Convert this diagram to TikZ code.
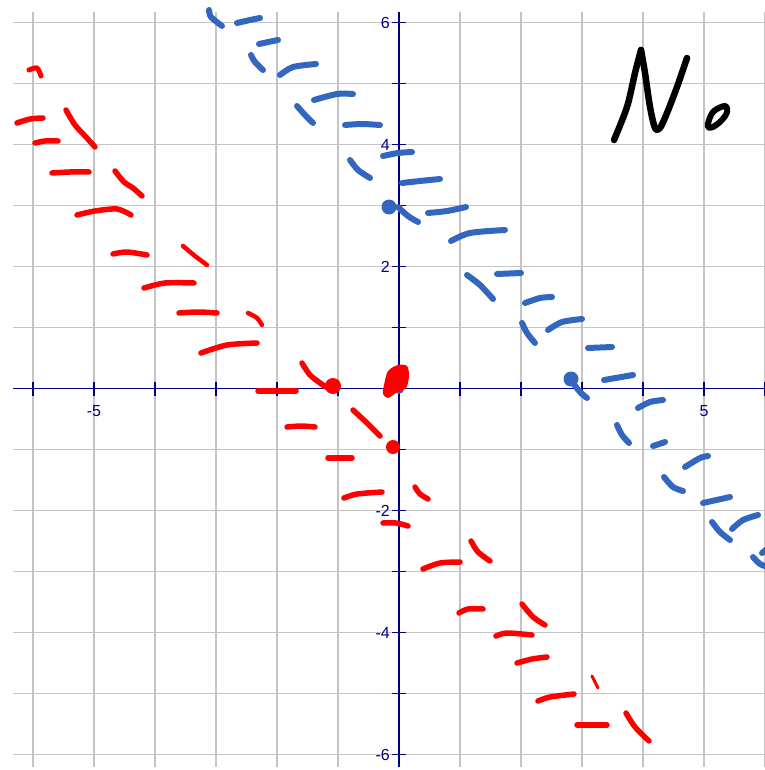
\documentclass[tikz,border=0pt]{standalone}
\usepackage{fontspec}
\setmainfont{Liberation Sans}
\definecolor{gridc}{RGB}{196,196,196}
\definecolor{axisc}{RGB}{0,0,128}
\definecolor{bluec}{RGB}{51,102,191}
\definecolor{redc}{RGB}{255,0,0}
\begin{document}
\begin{tikzpicture}[x=1pt,y=-1pt,
  rs/.style={draw=redc,line width=5.5pt,line cap=round,line join=round},
  bs/.style={draw=bluec,line width=6pt,line cap=round,line join=round},
  ink/.style={draw=black,line width=6.5pt,line cap=round,line join=round},
  gridline/.style={draw=gridc,line width=1.6pt},
  axisline/.style={draw=axisc,line width=1.7pt},
  lab/.style={text=axisc,font=\fontsize{16}{18}\selectfont,inner sep=0pt}]
\fill[white] (0,0) rectangle (764,770);
\useasboundingbox (0,0) rectangle (764,770);
% grid
\foreach \k in {-6,...,6} {
  \draw[gridline] ({399+61*\k},12) -- ({399+61*\k},767);
  \draw[gridline] (13,{388.5-61*\k}) -- (764,{388.5-61*\k});
}
% axes
\draw[axisline] (13,388.5) -- (764,388.5);
\draw[axisline] (399,12) -- (399,767);
\foreach \k in {-6,-5,-4,-3,-2,-1,1,2,3,4,5,6} {
  \draw[axisline] ({399+61*\k},381.5) -- ({399+61*\k},395.5);
  \draw[axisline] (392,{388.5-61*\k}) -- (406,{388.5-61*\k});
}
\node[lab,anchor=north] (lxm5) at (94,405.5) {-5};
\node[lab,anchor=north] (lx5) at (704,405.5) {5};
\node[lab,anchor=east] (ly6) at (390,22.5) {6};
\node[lab,anchor=east] (ly4) at (390,144.5) {4};
\node[lab,anchor=east] (ly2) at (390,266.5) {2};
\node[lab,anchor=east] (lym2) at (390,510.5) {-2};
\node[lab,anchor=east] (lym4) at (390,632.5) {-4};
\node[lab,anchor=east] (lym6) at (390,754.5) {-6};
% blue strokes
\draw[bs] plot[smooth] coordinates {(209,10) (211,17) (222,26)};
\draw[bs] plot[smooth] coordinates {(237,23) (250,20) (260,18)};
\draw[bs] plot[smooth] coordinates {(259,44) (278,40)};
\draw[bs] plot[smooth] coordinates {(251,55) (255,62) (263,70)};
\draw[bs] plot[smooth] coordinates {(280,75) (293,67) (316,64)};
\draw[bs] plot[smooth] coordinates {(297,106) (305,115) (313,123)};
\draw[bs] plot[smooth] coordinates {(314,100) (337,94) (353,94)};
\draw[bs] plot[smooth] coordinates {(345,125) (362,124) (380,125)};
\draw[bs] plot[smooth] coordinates {(350,160) (358,170) (370,178)};
\draw[bs] plot[smooth] coordinates {(383,156) (398,153) (412,152)};
\draw[bs] plot[smooth] coordinates {(402,183) (420,181) (440,179)};
\fill[bluec] (389,207) circle (7.5);
\draw[bs] plot[smooth] coordinates {(398,207) (408,216) (418,222)};
\draw[bs] plot[smooth] coordinates {(428,213) (447,211) (466,207)};
\draw[bs] plot[smooth] coordinates {(451,241) (470,233) (505,230)};
\draw[bs] plot[smooth] coordinates {(467,275) (480,285) (493,299)};
\draw[bs] plot[smooth] coordinates {(497,274) (521,273)};
\draw[bs] plot[smooth] coordinates {(525,303) (540,298) (552,297)};
\draw[bs] plot[smooth] coordinates {(522,323) (527,333) (535,343)};
\draw[bs] plot[smooth] coordinates {(548,330) (562,322) (582,319)};
\draw[bs] plot[smooth] coordinates {(588,348) (612,347)};
\fill[bluec] (571,379) circle (7.5);
\draw[bs] plot[smooth] coordinates {(573,383) (580,392) (587,398)};
\draw[bs] plot[smooth] coordinates {(604,380) (633,375)};
\draw[bs] plot[smooth] coordinates {(638,408) (650,402) (663,400)};
\draw[bs] plot[smooth] coordinates {(617,425) (622,435) (629,443)};
\draw[bs] plot[smooth] coordinates {(653,446) (665,442)};
\draw[bs] plot[smooth] coordinates {(685,467) (700,458) (708,456)};
\draw[bs] plot[smooth] coordinates {(664,477) (673,487) (683,491)};
\draw[bs] plot[smooth] coordinates {(703,503) (730,497)};
\draw[bs] plot[smooth] coordinates {(712,522) (720,532) (730,540)};
\draw[bs] plot[smooth] coordinates {(732,529) (743,520) (758,515)};
\draw[bs] plot[smooth] coordinates {(753,557) (760,564) (768,567)};
\draw[bs] (762,553) -- (767,549);
\fill[bluec] (399,389) circle (5);
% red strokes
\draw[rs,line width=5pt] plot[smooth] coordinates {(29,70) (37,68) (41,76)};
\draw[rs] plot[smooth] coordinates {(17,123) (30,119) (43,118)};
\draw[rs] plot[smooth] coordinates {(66,110) (75,125) (86,137) (95,147)};
\draw[rs] plot[smooth] coordinates {(35,143) (45,141) (58,141)};
\draw[rs] plot[smooth] coordinates {(52,173) (70,172) (89,172)};
\draw[rs] plot[smooth] coordinates {(115,171) (124,182) (133,188) (142,196)};
\draw[rs] plot[smooth] coordinates {(77,215) (95,211) (117,209) (131,215)};
\draw[rs] plot[smooth] coordinates {(113,254) (127,252) (147,255)};
\draw[rs,line width=4.5pt] plot[smooth] coordinates {(183,246) (195,256) (207,265)};
\draw[rs] plot[smooth] coordinates {(144,288) (165,283) (194,283)};
\draw[rs] plot[smooth] coordinates {(179,313) (198,312) (217,313)};
\draw[rs,line width=4.5pt] plot[smooth] coordinates {(248,313) (257,318) (262,325)};
\draw[rs] plot[smooth] coordinates {(201,353) (227,345) (257,343)};
\draw[rs] plot[smooth] coordinates {(302,363) (310,375) (323,385) (332,390)};
\fill[redc] (333,386) circle (8);
\draw[rs] plot[smooth] coordinates {(258,391) (277,391) (296,391)};
\fill[redc] plot[smooth cycle] coordinates {(384,385) (388,371) (398,365) (407,366) (409,376) (406,388) (396,393) (388,398) (383,394)};
\draw[rs] plot[smooth] coordinates {(287,427) (301,426) (315,427)};
\draw[rs] plot[smooth] coordinates {(353,410) (367,423) (380,436)};
\fill[redc] (393,447) circle (7);
\draw[rs] plot[smooth] coordinates {(328,458) (340,458) (352,458)};
\draw[rs] plot[smooth] coordinates {(344,498) (357,494) (382,492)};
\draw[rs] plot[smooth] coordinates {(415,487) (420,494) (428,499)};
\draw[rs] plot[smooth] coordinates {(383,523) (396,523) (408,526)};
\draw[rs] plot[smooth] coordinates {(423,569) (440,563) (460,562)};
\draw[rs] plot[smooth] coordinates {(471,541) (478,552) (490,561)};
\draw[rs] plot[smooth] coordinates {(459,613) (468,609) (483,609)};
\draw[rs] plot[smooth] coordinates {(522,604) (533,617) (545,625)};
\draw[rs] plot[smooth] coordinates {(496,636) (507,633) (532,635)};
\draw[rs] plot[smooth] coordinates {(517,663) (532,659) (547,657)};
\draw[rs,line width=3pt] plot[smooth] coordinates {(592,676) (598,688)};
\draw[rs] plot[smooth] coordinates {(538,701) (550,697) (574,694)};
\draw[rs] plot[smooth] coordinates {(577,725) (592,725) (607,725)};
\draw[rs] plot[smooth] coordinates {(626,713) (635,727) (649,741)};
% handwritten "No"
\draw[ink] plot[smooth,tension=0.5] coordinates {(614,140) (627,107) (635,73) (641,50)};
\draw[ink] plot[smooth,tension=0.5] coordinates {(641,50) (645,73) (650,107) (655,128) (660,128) (667,113) (677,87) (687,58)};
\draw[ink,line width=6pt] plot[smooth cycle,tension=0.6] coordinates {(725,106) (714,111) (709,120) (708,127) (713,127) (722,120) (727,112)};
\end{tikzpicture}
\end{document}
